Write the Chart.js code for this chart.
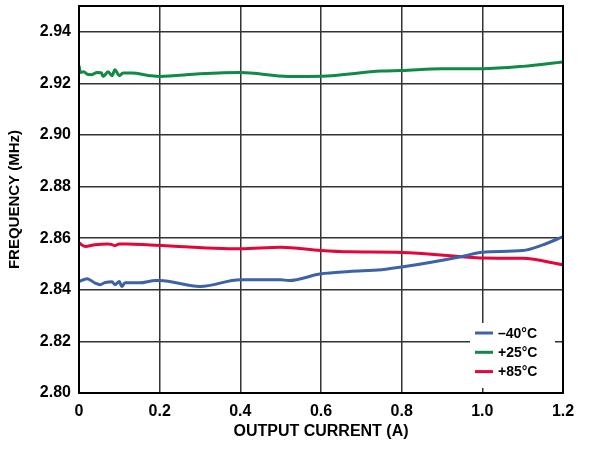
<!DOCTYPE html>
<html>
<head>
<meta charset="utf-8">
<script src="https://cdn.jsdelivr.net/npm/chart.js@4.4.1/dist/chart.umd.min.js"></script>
<style>
  html, body { margin: 0; padding: 0; background: #fff; }
  #wrap { width: 593px; height: 450px; position: relative; }
</style>
</head>
<body>
<div id="wrap"><canvas id="chart"></canvas></div>
<script>
// series labels
const seriesNames = ['\u201340\u00b0C', '+25\u00b0C', '+85\u00b0C'];

// -40°C
const coldCurrent = [0, 0.02, 0.04, 0.052, 0.065, 0.082, 0.089, 0.1, 0.106, 0.114, 0.15, 0.19, 0.2, 0.3, 0.4, 0.5, 0.52, 0.6, 0.67, 0.75, 0.8, 0.95, 1.0, 1.1, 1.15, 1.2];
const coldFreq = [2.8432, 2.8443, 2.8426, 2.8420, 2.8428, 2.8431, 2.8420, 2.8432, 2.8413, 2.8427, 2.8427, 2.8436, 2.8436, 2.8413, 2.8439, 2.8439, 2.8436, 2.8462, 2.8471, 2.8478, 2.8488, 2.8529, 2.8546, 2.8552, 2.8574, 2.8606];

// +25°C
const roomCurrent = [0, 0.004, 0.012, 0.02, 0.03, 0.045, 0.055, 0.06, 0.072, 0.082, 0.089, 0.1, 0.109, 0.13, 0.176, 0.2, 0.3, 0.4, 0.52, 0.6, 0.75, 0.8, 0.9, 1.0, 1.1, 1.2];
const roomFreq = [2.9268, 2.9242, 2.9245, 2.9236, 2.9234, 2.9242, 2.9241, 2.9227, 2.9245, 2.9230, 2.9253, 2.9230, 2.9240, 2.9240, 2.9230, 2.9227, 2.9237, 2.9242, 2.9227, 2.9228, 2.9248, 2.9250, 2.9257, 2.9257, 2.9266, 2.9283];

// +85°C
const hotCurrent = [0, 0.015, 0.04, 0.07, 0.08, 0.089, 0.1, 0.12, 0.176, 0.4, 0.5, 0.6, 0.67, 0.8, 0.95, 1.0, 1.1, 1.2];
const hotFreq = [2.8582, 2.8568, 2.8575, 2.8578, 2.8576, 2.8571, 2.8578, 2.8578, 2.8574, 2.8559, 2.8565, 2.8552, 2.8547, 2.8545, 2.8528, 2.8523, 2.8522, 2.8497];

const seriesColors = ['#3d62a6', '#0f8a47', '#e2063b'];

function toPoints(xs, ys) {
  return xs.map((x, i) => ({ x: x, y: ys[i] }));
}

const fontFamily = '"Liberation Sans", Arial, sans-serif';

// white legend box inside the plot, bottom right
const insideLegend = {
  id: 'insideLegend',
  afterDatasetsDraw(chart) {
    const ctx = chart.ctx;
    const area = chart.chartArea;
    const boxL = area.right - 93, boxT = area.bottom - 70;
    ctx.save();
    ctx.fillStyle = '#fff';
    ctx.fillRect(boxL, boxT, 85, 65);
    ctx.font = 'bold 14px ' + fontFamily;
    ctx.textBaseline = 'middle';
    ctx.textAlign = 'left';
    chart.data.datasets.forEach((ds, i) => {
      const y = boxT + 10 + i * 19.3;
      ctx.strokeStyle = ds.borderColor;
      ctx.lineWidth = 3;
      ctx.beginPath();
      ctx.moveTo(boxL + 5, y);
      ctx.lineTo(boxL + 23, y);
      ctx.stroke();
      ctx.fillStyle = '#000';
      ctx.fillText(ds.label, boxL + 28, y + 1);
    });
    ctx.restore();
  },
  afterDraw(chart) {
    const ctx = chart.ctx;
    const area = chart.chartArea;
    ctx.save();
    ctx.strokeStyle = '#000';
    ctx.lineWidth = 2;
    ctx.strokeRect(area.left, area.top, area.right - area.left, area.bottom - area.top);
    ctx.restore();
  }
};

const data = {
  datasets: [
    { label: seriesNames[0], data: toPoints(coldCurrent, coldFreq), borderColor: seriesColors[0] },
    { label: seriesNames[1], data: toPoints(roomCurrent, roomFreq), borderColor: seriesColors[1] },
    { label: seriesNames[2], data: toPoints(hotCurrent, hotFreq), borderColor: seriesColors[2] },
  ],
};

const config = {
  type: 'line',
  data,
  plugins: [insideLegend],
  options: {
    responsive: true,
    maintainAspectRatio: false,
    animation: false,
    layout: { padding: { left: 0, top: 6, right: 30, bottom: 0 } },
    elements: {
      point: { radius: 0 },
      line: { borderWidth: 3, cubicInterpolationMode: 'monotone', fill: false },
    },
    plugins: {
      legend: { display: false },
      tooltip: { enabled: false },
    },
    scales: {
      x: {
        type: 'linear',
        min: 0,
        max: 1.2,
        afterFit: (scale) => { scale.height = 57; },
        grid: { color: '#333', lineWidth: 1.5, drawTicks: false },
        border: { display: false },
        ticks: {
          stepSize: 0.2,
          padding: 9,
          color: '#000',
          font: { family: fontFamily, size: 16, weight: 'bold' },
          callback: (v) => (v === 0 ? '0' : v.toFixed(1)),
        },
        title: {
          display: true,
          text: 'OUTPUT CURRENT (A)',
          color: '#000',
          font: { family: fontFamily, size: 16, weight: 'bold' },
          padding: { top: 0, bottom: 9 },
        },
      },
      y: {
        min: 2.80,
        max: 2.95,
        afterFit: (scale) => { scale.width = 79; scale.paddingTop = 0; scale.paddingBottom = 0; },
        grid: { color: '#333', lineWidth: 1.5, drawTicks: false },
        border: { display: false },
        ticks: {
          stepSize: 0.02,
          includeBounds: false,
          padding: 8,
          color: '#000',
          font: { family: fontFamily, size: 16, weight: 'bold' },
          callback: (v) => v.toFixed(2),
        },
        title: {
          display: true,
          text: 'FREQUENCY (MHz)',
          color: '#000',
          font: { family: fontFamily, size: 15, weight: 'bold' },
          padding: { top: 6, bottom: 0 },
        },
      },
    },
  },
};

new Chart(document.getElementById('chart'), config);
</script>
</body>
</html>
